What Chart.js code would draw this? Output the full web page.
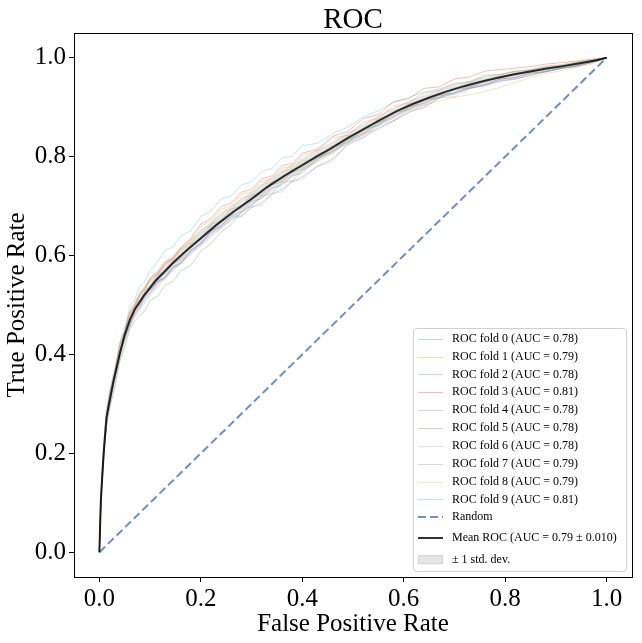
<!DOCTYPE html>
<html>
<head>
<meta charset="utf-8">
<script src="https://cdn.jsdelivr.net/npm/chart.js@4.4.1/dist/chart.umd.min.js"></script>
<style>
  html, body { margin: 0; padding: 0; background: #fff; }
  canvas { display: block; }
</style>
</head>
<body>
<canvas id="roc" width="642" height="643"></canvas>
<script>
// ROC data
const xTicks = [0, 0.2, 0.4, 0.6, 0.8, 1.0];
const yTicks = [0, 0.2, 0.4, 0.6, 0.8, 1.0];

const foldLabels = [
  "ROC fold 0 (AUC = 0.78)", "ROC fold 1 (AUC = 0.79)", "ROC fold 2 (AUC = 0.78)",
  "ROC fold 3 (AUC = 0.81)", "ROC fold 4 (AUC = 0.78)", "ROC fold 5 (AUC = 0.78)",
  "ROC fold 6 (AUC = 0.78)", "ROC fold 7 (AUC = 0.79)", "ROC fold 8 (AUC = 0.79)",
  "ROC fold 9 (AUC = 0.81)",
];
const foldColors = [
  "rgba(31,119,180,0.3)", "rgba(255,127,14,0.3)", "rgba(44,160,44,0.3)",
  "rgba(214,39,40,0.3)", "rgba(148,103,189,0.3)", "rgba(140,86,75,0.3)",
  "rgba(227,119,194,0.3)", "rgba(127,127,127,0.3)", "rgba(188,189,34,0.3)",
  "rgba(23,190,207,0.3)",
];

const foldFpr = [0, 0.002, 0.005, 0.01, 0.015, 0.02, 0.03, 0.04, 0.05, 0.06,
  0.07, 0.08, 0.09, 0.10, 0.115, 0.13, 0.145, 0.16, 0.18, 0.20,
  0.22, 0.24, 0.26, 0.28, 0.30, 0.32, 0.34, 0.36, 0.38, 0.40,
  0.43, 0.46, 0.49, 0.52, 0.55, 0.58, 0.61, 0.64, 0.67, 0.70,
  0.73, 0.76, 0.79, 0.82, 0.85, 0.88, 0.91, 0.94, 0.97, 1.0];

const fold0Tpr = [0, 0.072, 0.140, 0.214, 0.268, 0.300, 0.352, 0.396, 0.436, 0.462,
  0.489, 0.502, 0.522, 0.531, 0.547, 0.556, 0.576, 0.585, 0.609, 0.625,
  0.648, 0.660, 0.680, 0.680, 0.698, 0.707, 0.724, 0.734, 0.750, 0.759,
  0.781, 0.795, 0.824, 0.838, 0.858, 0.872, 0.890, 0.899, 0.919, 0.927,
  0.938, 0.944, 0.952, 0.957, 0.964, 0.972, 0.978, 0.983, 0.990, 1];
const fold1Tpr = [0, 0.078, 0.150, 0.222, 0.272, 0.308, 0.356, 0.410, 0.442, 0.480,
  0.498, 0.520, 0.533, 0.551, 0.562, 0.583, 0.592, 0.611, 0.630, 0.659,
  0.670, 0.694, 0.701, 0.723, 0.729, 0.750, 0.756, 0.777, 0.781, 0.802,
  0.812, 0.838, 0.843, 0.869, 0.878, 0.902, 0.909, 0.929, 0.934, 0.948,
  0.952, 0.965, 0.966, 0.973, 0.975, 0.983, 0.985, 0.992, 0.996, 1];
const fold2Tpr = [0, 0.062, 0.132, 0.208, 0.266, 0.292, 0.330, 0.385, 0.415, 0.452,
  0.468, 0.479, 0.488, 0.509, 0.518, 0.541, 0.547, 0.569, 0.580, 0.609,
  0.624, 0.648, 0.663, 0.688, 0.701, 0.720, 0.726, 0.747, 0.751, 0.772,
  0.793, 0.819, 0.829, 0.855, 0.863, 0.889, 0.895, 0.916, 0.919, 0.937,
  0.939, 0.955, 0.958, 0.969, 0.970, 0.979, 0.980, 0.989, 0.991, 1];
const fold3Tpr = [0, 0.088, 0.158, 0.232, 0.284, 0.318, 0.362, 0.419, 0.446, 0.486,
  0.500, 0.524, 0.535, 0.556, 0.565, 0.588, 0.594, 0.616, 0.635, 0.664,
  0.675, 0.699, 0.706, 0.728, 0.734, 0.755, 0.761, 0.782, 0.786, 0.807,
  0.815, 0.841, 0.851, 0.877, 0.885, 0.911, 0.917, 0.938, 0.941, 0.957,
  0.961, 0.973, 0.976, 0.979, 0.982, 0.987, 0.990, 0.993, 0.997, 1];
const fold4Tpr = [0, 0.071, 0.141, 0.214, 0.266, 0.299, 0.351, 0.399, 0.433, 0.456,
  0.482, 0.494, 0.517, 0.524, 0.549, 0.556, 0.578, 0.584, 0.611, 0.624,
  0.651, 0.659, 0.682, 0.688, 0.710, 0.715, 0.737, 0.742, 0.762, 0.767,
  0.797, 0.807, 0.833, 0.843, 0.867, 0.877, 0.899, 0.904, 0.923, 0.927,
  0.939, 0.943, 0.954, 0.957, 0.966, 0.971, 0.978, 0.982, 0.990, 1];
const fold5Tpr = [0, 0.077, 0.143, 0.223, 0.267, 0.307, 0.350, 0.401, 0.433, 0.466,
  0.488, 0.502, 0.523, 0.532, 0.555, 0.564, 0.584, 0.592, 0.617, 0.632,
  0.657, 0.667, 0.688, 0.696, 0.716, 0.723, 0.743, 0.750, 0.768, 0.775,
  0.799, 0.811, 0.835, 0.847, 0.869, 0.881, 0.901, 0.908, 0.925, 0.929,
  0.942, 0.946, 0.957, 0.960, 0.969, 0.972, 0.980, 0.984, 0.992, 1];
const fold6Tpr = [0, 0.066, 0.139, 0.210, 0.264, 0.295, 0.349, 0.395, 0.431, 0.460,
  0.484, 0.500, 0.519, 0.530, 0.546, 0.553, 0.574, 0.582, 0.606, 0.622,
  0.645, 0.656, 0.674, 0.679, 0.697, 0.702, 0.724, 0.729, 0.749, 0.754,
  0.780, 0.790, 0.829, 0.839, 0.863, 0.873, 0.895, 0.900, 0.919, 0.921,
  0.937, 0.945, 0.957, 0.960, 0.969, 0.972, 0.979, 0.982, 0.990, 1];
const fold7Tpr = [0, 0.074, 0.148, 0.217, 0.273, 0.302, 0.359, 0.401, 0.441, 0.466,
  0.494, 0.506, 0.529, 0.536, 0.561, 0.568, 0.590, 0.596, 0.623, 0.636,
  0.663, 0.671, 0.694, 0.700, 0.722, 0.727, 0.749, 0.754, 0.774, 0.779,
  0.805, 0.815, 0.841, 0.851, 0.875, 0.885, 0.907, 0.912, 0.929, 0.935,
  0.947, 0.951, 0.962, 0.965, 0.974, 0.975, 0.984, 0.985, 0.994, 1];
const fold8Tpr = [0, 0.080, 0.152, 0.223, 0.277, 0.312, 0.358, 0.413, 0.442, 0.480,
  0.496, 0.520, 0.531, 0.552, 0.561, 0.584, 0.590, 0.612, 0.623, 0.652,
  0.663, 0.687, 0.694, 0.716, 0.722, 0.743, 0.749, 0.770, 0.774, 0.791,
  0.796, 0.812, 0.826, 0.846, 0.855, 0.872, 0.890, 0.905, 0.912, 0.920,
  0.925, 0.932, 0.940, 0.950, 0.960, 0.968, 0.974, 0.980, 0.987, 1];
const fold9Tpr = [0, 0.095, 0.165, 0.240, 0.283, 0.324, 0.366, 0.424, 0.450, 0.498,
  0.512, 0.538, 0.548, 0.569, 0.588, 0.611, 0.617, 0.639, 0.650, 0.679,
  0.690, 0.714, 0.721, 0.743, 0.749, 0.770, 0.776, 0.797, 0.801, 0.822,
  0.827, 0.846, 0.860, 0.880, 0.893, 0.910, 0.920, 0.930, 0.937, 0.947,
  0.950, 0.963, 0.966, 0.972, 0.975, 0.981, 0.984, 0.990, 0.995, 1];
const foldTprs = [fold0Tpr, fold1Tpr, fold2Tpr, fold3Tpr, fold4Tpr,
  fold5Tpr, fold6Tpr, fold7Tpr, fold8Tpr, fold9Tpr];

const meanFpr = [0, 0.003, 0.008, 0.014, 0.027, 0.041, 0.050, 0.060, 0.070, 0.087,
  0.110, 0.142, 0.165, 0.200, 0.231, 0.265, 0.297, 0.330, 0.363, 0.395,
  0.428, 0.454, 0.487, 0.520, 0.553, 0.586, 0.619, 0.652, 0.685, 0.717,
  0.750, 0.783, 0.816, 0.849, 0.882, 0.914, 0.947, 0.980, 1.0];
const meanTpr = [0, 0.106, 0.193, 0.274, 0.342, 0.405, 0.440, 0.470, 0.492, 0.518,
  0.548, 0.582, 0.604, 0.635, 0.662, 0.689, 0.712, 0.738, 0.760, 0.780,
  0.800, 0.815, 0.836, 0.855, 0.874, 0.892, 0.907, 0.920, 0.932, 0.942,
  0.951, 0.959, 0.966, 0.972, 0.978, 0.983, 0.989, 0.995, 1.0];
const stdUpper = [0, 0.126, 0.218, 0.299, 0.364, 0.425, 0.459, 0.488, 0.510, 0.536,
  0.566, 0.599, 0.621, 0.651, 0.678, 0.704, 0.727, 0.752, 0.774, 0.793,
  0.813, 0.827, 0.848, 0.866, 0.885, 0.902, 0.917, 0.929, 0.941, 0.950,
  0.959, 0.966, 0.973, 0.978, 0.984, 0.988, 0.993, 0.998, 1.0];
const stdLower = [0, 0.086, 0.168, 0.249, 0.320, 0.385, 0.421, 0.452, 0.474, 0.500,
  0.530, 0.565, 0.587, 0.619, 0.646, 0.674, 0.697, 0.724, 0.746, 0.767,
  0.787, 0.803, 0.824, 0.844, 0.863, 0.882, 0.897, 0.911, 0.923, 0.934,
  0.943, 0.952, 0.959, 0.966, 0.972, 0.978, 0.985, 0.992, 1.0];

const randomFpr = [0, 1];
const randomTpr = [0, 1];

const toPoints = (xs, ys) => xs.map((x, i) => ({ x: x, y: ys[i] }));

const datasets = [];
foldTprs.forEach((tpr, i) => {
  datasets.push({
    label: foldLabels[i],
    data: toPoints(foldFpr, tpr),
    borderColor: foldColors[i],
    borderWidth: 1,
    order: 3,
  });
});
datasets.push({
  label: "Random",
  data: toPoints(randomFpr, randomTpr),
  borderColor: "rgba(76,114,176,0.8)",
  borderWidth: 2,
  borderDash: [8, 4],
  order: 2,
});
datasets.push({
  label: "Mean ROC (AUC = 0.79 \u00b1 0.010)",
  data: toPoints(meanFpr, meanTpr),
  borderColor: "rgba(0,0,0,0.8)",
  borderWidth: 2,
  order: 0,
});
datasets.push({
  label: null,
  data: toPoints(meanFpr, stdLower),
  borderWidth: 0,
  borderColor: "rgba(0,0,0,0)",
  order: 4,
});
datasets.push({
  label: "\u00b1 1 std. dev.",
  data: toPoints(meanFpr, stdUpper),
  borderWidth: 0,
  borderColor: "rgba(0,0,0,0)",
  backgroundColor: "rgba(128,128,128,0.2)",
  fill: "-1",
  isPatch: true,
  order: 4,
});

// frame, title and a matplotlib-like legend box
const framePlugin = {
  id: "frame",
  afterDraw(chart) {
    const ctx = chart.ctx, a = chart.chartArea;
    ctx.save();
    ctx.strokeStyle = "#000";
    ctx.lineWidth = 1;
    ctx.strokeRect(a.left + 0.5, a.top + 0.5, a.right - a.left, a.bottom - a.top);

    ctx.fillStyle = "#000";
    ctx.font = "29px 'Liberation Serif'";
    ctx.textAlign = "center";
    ctx.textBaseline = "alphabetic";
    ctx.fillText("ROC", (a.left + a.right) / 2, 28);

    // legend
    const x0 = a.right - 219, y0 = a.bottom - 249, w = 213, h = 243;
    ctx.beginPath();
    ctx.roundRect(x0 + 0.5, y0 + 0.5, w, h, 3);
    ctx.fillStyle = "rgba(255,255,255,0.8)";
    ctx.fill();
    ctx.strokeStyle = "#d0d0d0";
    ctx.stroke();

    const rowY = [10.7, 28.6, 46.4, 64.3, 82.1, 100, 117.8, 135.7, 153.5, 171.4, 189, 210, 231.7];
    const items = chart.data.datasets.filter((d) => d.label);
    ctx.font = "12px 'Liberation Serif'";
    ctx.textAlign = "left";
    ctx.textBaseline = "middle";
    items.forEach((d, i) => {
      const cy = y0 + rowY[i];
      if (d.isPatch) {
        ctx.fillStyle = d.backgroundColor;
        ctx.fillRect(x0 + 5, cy - 4.5, 25, 9);
        ctx.strokeStyle = "rgba(128,128,128,0.2)";
        ctx.strokeRect(x0 + 5.5, cy - 4, 24, 8);
      } else {
        ctx.beginPath();
        ctx.setLineDash(d.borderDash || []);
        ctx.strokeStyle = d.borderColor;
        ctx.lineWidth = d.borderWidth;
        const ly = d.borderWidth === 1 ? Math.round(cy) + 0.5 : Math.round(cy);
        ctx.moveTo(x0 + 5, ly);
        ctx.lineTo(x0 + 30, ly);
        ctx.stroke();
        ctx.setLineDash([]);
        ctx.lineWidth = 1;
      }
      ctx.fillStyle = "#000";
      ctx.fillText(d.label, x0 + 39, cy);
    });
    ctx.restore();
  },
};

const tickFont = { family: "'Liberation Serif'", size: 25 };
const labelFont = { family: "'Liberation Serif'", size: 25 };

new Chart(document.getElementById("roc"), {
  type: "scatter",
  data: { datasets: datasets },
  options: {
    responsive: false,
    animation: false,
    devicePixelRatio: 1,
    showLine: true,
    elements: {
      point: { radius: 0, hoverRadius: 0 },
      line: { tension: 0 },
    },
    layout: { padding: { top: 33, right: 10, left: 0, bottom: 0 } },
    plugins: {
      legend: { display: false },
      tooltip: { enabled: false },
    },
    scales: {
      x: {
        type: "linear",
        min: -0.05,
        max: 1.05,
        afterBuildTicks: (scale) => { scale.ticks = xTicks.map((v) => ({ value: v })); },
        afterFit: (scale) => { scale.height = 66; },
        ticks: {
          autoSkip: false,
          maxRotation: 0,
          padding: 2,
          color: "#000",
          font: tickFont,
          callback: (v) => Number(v).toFixed(1),
        },
        grid: { drawOnChartArea: false, drawTicks: true, tickLength: 5, tickColor: "#000" },
        border: { display: false },
        title: { display: true, text: "False Positive Rate", color: "#000", font: labelFont, padding: { top: 0, bottom: 4 } },
      },
      y: {
        type: "linear",
        min: -0.05,
        max: 1.05,
        afterBuildTicks: (scale) => { scale.ticks = yTicks.map((v) => ({ value: v })); },
        afterFit: (scale) => { scale.width = 74; },
        ticks: {
          autoSkip: false,
          padding: 3,
          color: "#000",
          font: tickFont,
          callback: (v) => Number(v).toFixed(1),
        },
        grid: { drawOnChartArea: false, drawTicks: true, tickLength: 5, tickColor: "#000" },
        border: { display: false },
        title: { display: true, text: "True Positive Rate", color: "#000", font: labelFont, padding: { top: 2, bottom: 0 } },
      },
    },
  },
  plugins: [framePlugin],
});
</script>
</body>
</html>
